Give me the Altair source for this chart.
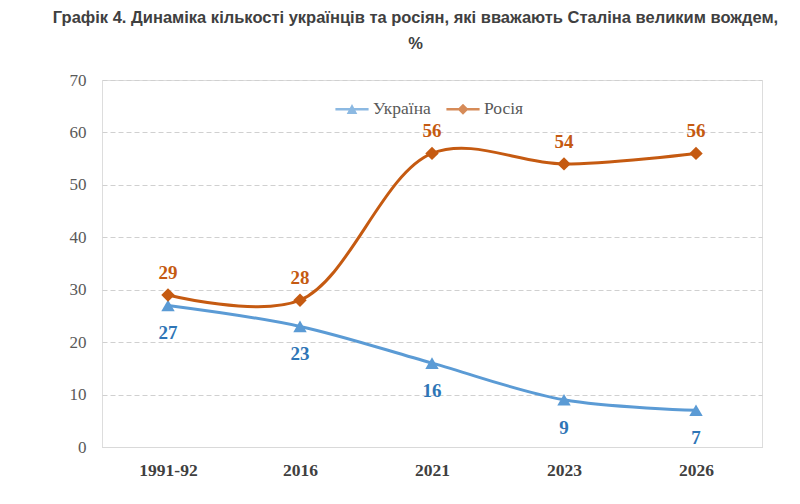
import altair as alt
import pandas as pd

years = ["1991-92", "2016", "2021", "2023", "2026"]
ukraine = [27, 23, 16, 9, 7]
russia = [29, 28, 56, 54, 56]
series = ["Україна", "Росія"]
line_colors = ["#5B9BD5", "#C55A11"]
label_colors = ["#2E75B6", "#C55A11"]
marker_shapes = ["triangle-up", "diamond"]
y_ticks = [0, 10, 20, 30, 40, 50, 60, 70]

rows = []
for s, vals in zip(series, [ukraine, russia]):
    for yr, v in zip(years, vals):
        rows.append({"year": yr, "series": s, "value": v})
df = pd.DataFrame(rows)

# legend symbols: line segment + marker
tri_path = "M-1,-0.075H1V0.075H-1Z M-0.32,0.28L0,-0.32L0.32,0.28Z"
dia_path = "M-1,-0.075H1V0.075H-1Z M0,-0.33L0.33,0L0,0.33L-0.33,0Z"

legend = alt.Legend(
    title=None, orient="none", legendX=233, legendY=12, direction="horizontal",
    labelFont="Liberation Serif", labelFontSize=17.5, labelColor="#595959",
    symbolSize=1100, columnPadding=15, labelOffset=4, symbolStrokeWidth=0,
)

x = alt.X("year:N", sort=years, title=None,
          axis=alt.Axis(labelAngle=0, labelFont="Liberation Serif", labelFontSize=17.5,
                        labelFontWeight="bold", labelColor="#404040", labelPadding=14,
                        ticks=False, domainColor="#d9d9d9", domainWidth=1.2, grid=False))
y = alt.Y("value:Q", title=None, scale=alt.Scale(domain=[0, 70], nice=False),
          axis=alt.Axis(values=y_ticks, labelFont="Liberation Serif", labelFontSize=17,
                        labelColor="#595959", labelPadding=16, ticks=False, domain=False,
                        grid=True, gridColor="#d0d0d0", gridDash=[5, 3], gridWidth=1))

base = alt.Chart(df).encode(x=x, y=y)

layers = []
for i, s in enumerate(series):
    sub = base.transform_filter(alt.datum.series == s)
    layers.append(sub.mark_line(interpolate="catmull-rom", strokeWidth=3, color=line_colors[i]))
for i, s in enumerate(series):
    sub = base.transform_filter(alt.datum.series == s)
    layers.append(sub.mark_point(filled=True, size=180, opacity=1, shape=marker_shapes[i],
                                 color=line_colors[i]))

legend_layer = base.mark_point(filled=True, size=0).encode(
    color=alt.Color("series:N", scale=alt.Scale(domain=series, range=line_colors), legend=legend),
    shape=alt.Shape("series:N", scale=alt.Scale(domain=series, range=[tri_path, dia_path]),
                    legend=legend),
)
layers.append(legend_layer)

dys = [28, -22]
for i, s in enumerate(series):
    sub = base.transform_filter(alt.datum.series == s)
    layers.append(sub.mark_text(font="Liberation Serif", fontSize=19, fontWeight="bold",
                                dy=dys[i], color=label_colors[i]).encode(text="value:Q"))

chart = alt.layer(*layers).properties(
    width=660, height=367,
    autosize=alt.AutoSizeParams(type="none"),
    padding={"left": 94, "top": 72, "right": 30, "bottom": 40},
    title=alt.TitleParams(
        ["Графік 4. Динаміка кількості українців та росіян, які вважають Сталіна великим вождем,", "%"],
        font="Liberation Sans", fontSize=16.5, fontWeight="bold", color="#404040",
        anchor="middle", frame="bounds", lineHeight=26, offset=19,
    ),
).configure_view(stroke=None).configure(background="white")

chart.save("out.html", embed_options={"renderer": "svg", "actions": False})
